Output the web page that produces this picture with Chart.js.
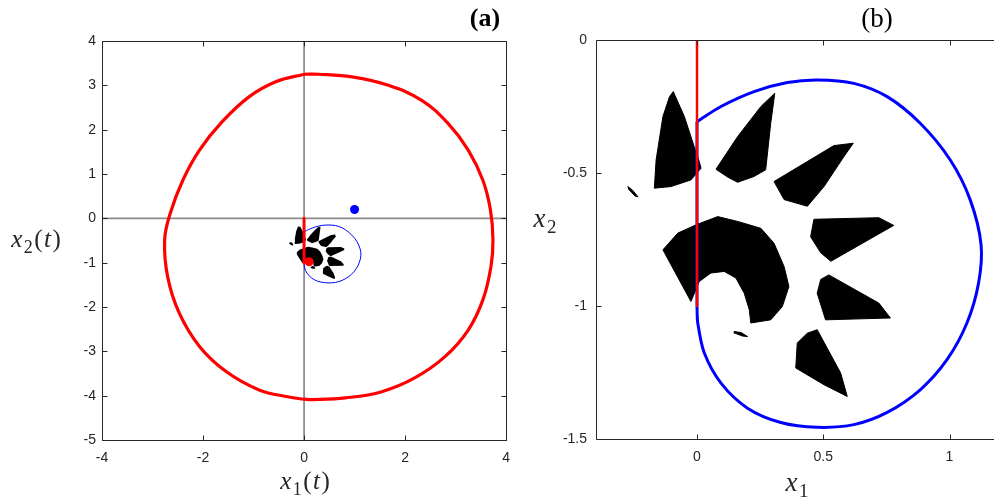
<!DOCTYPE html>
<html>
<head>
<meta charset="utf-8">
<script src="https://cdn.jsdelivr.net/npm/chart.js@4/dist/chart.umd.min.js"></script>
<style>
  html, body { margin: 0; padding: 0; background: #fff; overflow: hidden; width: 994px; height: 502px; }
  #wa { position: absolute; left: 0; top: 0; width: 520px; height: 502px; }
  #wb { position: absolute; left: 520px; top: 0; width: 480px; height: 502px; }
</style>
</head>
<body>
<div id="wa"><canvas id="ca" width="520" height="502"></canvas></div>
<div id="wb"><canvas id="cb" width="480" height="502"></canvas></div>
<script>
// ---- tick values ----
const xTicksA = [-4, -2, 0, 2, 4];
const yTicksA = [-5, -4, -3, -2, -1, 0, 1, 2, 3, 4];
const xTicksB = [0, 0.5, 1];
const yTicksB = [-1.5, -1, -0.5, 0];

// ---- large red orbit (two halves, joined at the kinks on x1 = 0) ----
const redOrbitRight = [[0,3.25],[0.29,3.25],[0.95,3.19],[1.67,3.0],[2.33,2.66],[2.85,2.14],[3.25,1.54],[3.54,0.86],[3.69,0.19],[3.74,-0.49],[3.70,-1.09],[3.54,-1.84],[3.25,-2.52],[2.79,-3.12],[2.19,-3.60],[1.54,-3.91],[0.82,-4.05],[0.16,-4.09],[0,-4.08]];
const redOrbitLeft = [[0,-4.08],[-0.30,-4.03],[-0.89,-3.87],[-1.55,-3.45],[-2.07,-2.89],[-2.47,-2.14],[-2.70,-1.32],[-2.76,-0.49],[-2.65,0.11],[-2.40,0.86],[-2.07,1.54],[-1.62,2.18],[-1.09,2.74],[-0.56,3.08],[0,3.25]];

// ---- red drop along x1 = 0 and end point ----
const redDrop = [[0,0],[0,-1.0]];
const redEnd = [[0.1,-0.98]];

// ---- blue loop and start point ----
const blueArc = [[0,-0.307],[0.095,-0.25],[0.226,-0.194],[0.358,-0.160],[0.476,-0.150],[0.621,-0.163],[0.753,-0.213],[0.884,-0.313],[1.003,-0.451],[1.082,-0.601],[1.125,-0.770],[1.115,-0.914],[1.069,-1.064],[0.990,-1.202],[0.884,-1.315],[0.753,-1.40],[0.621,-1.446],[0.476,-1.456],[0.332,-1.438],[0.200,-1.384],[0.095,-1.290],[0.029,-1.177],[0.003,-1.064],[0,-1.0]];
const blueReset = [[0,-1.0],[0,-0.307]];
const blueStart = [[1,0.2]];

// ---- coordinate axes through the origin (panel a) ----
const axisH = [[-4,0],[4,0]];
const axisV = [[0,-5],[0,4]];

// ---- clusters of sampled states (outlines) ----
const wedge1 = [[-0.094,-0.194],[-0.050,-0.288],[-0.011,-0.401],[0.009,-0.457],[0.016,-0.482],[-0.024,-0.526],[-0.103,-0.551],[-0.169,-0.557],[-0.162,-0.451],[-0.135,-0.288],[-0.109,-0.213]];
const wedge2 = [[0.308,-0.200],[0.292,-0.313],[0.272,-0.488],[0.226,-0.513],[0.161,-0.535],[0.121,-0.515],[0.075,-0.486],[0.161,-0.363],[0.253,-0.25]];
const wedge3 = [[0.619,-0.388],[0.542,-0.397],[0.305,-0.532],[0.345,-0.600],[0.437,-0.625],[0.503,-0.551],[0.582,-0.438]];
const wedge4 = [[0.463,-0.674],[0.720,-0.668],[0.779,-0.697],[0.53,-0.832],[0.49,-0.80],[0.45,-0.74]];
const wedge5 = [[0.522,-0.883],[0.720,-0.989],[0.766,-1.045],[0.509,-1.052],[0.476,-0.952],[0.49,-0.90]];
const wedge6 = [[0.476,-1.089],[0.569,-1.252],[0.595,-1.340],[0.503,-1.296],[0.391,-1.233],[0.397,-1.139],[0.437,-1.102]];
const arcCluster = [[-0.135,-0.789],[-0.076,-0.726],[-0.004,-0.695],[0.082,-0.664],[0.161,-0.682],[0.253,-0.708],[0.305,-0.764],[0.345,-0.852],[0.364,-0.927],[0.338,-1.002],[0.292,-1.052],[0.213,-1.064],[0.207,-1.014],[0.187,-0.952],[0.154,-0.895],[0.108,-0.870],[0.055,-0.876],[0.009,-0.908],[-0.024,-0.983]];
const speckA = [[-0.274,-0.551],[-0.255,-0.565],[-0.234,-0.589],[-0.245,-0.587],[-0.27,-0.562]];
const speckB = [[0.147,-1.096],[0.175,-1.100],[0.200,-1.115],[0.18,-1.113],[0.15,-1.102]];
const clusters = [wedge1, wedge2, wedge3, wedge4, wedge5, wedge6, arcCluster, speckA, speckB];

// ---- helpers ----
const pts = a => a.map(([x, y]) => ({ x, y }));
const RED = '#ff0000', BLUE = '#0000ff';

function lineSet(arr, color, width, order, tension) {
  return { data: pts(arr), showLine: true, fill: false, borderColor: color, borderWidth: width,
           borderJoinStyle: 'round', pointRadius: 0, tension: tension || 0, order };
}
function dotSet(arr, color, r, order) {
  return { data: pts(arr), showLine: false, pointRadius: r, pointBackgroundColor: color,
           pointBorderColor: color, pointBorderWidth: 0, order };
}
function clusterSet(arr, width) {
  return { data: pts([...arr, arr[0]]), showLine: true, fill: 'shape', backgroundColor: '#000',
           borderColor: '#000', borderWidth: width, borderJoinStyle: 'round',
           pointRadius: 0, tension: 0, order: 6 };
}

const SERIF = "'Liberation Serif', 'Times New Roman', serif";
function drawRich(ctx, segs, cx, cy, size, gap) {
  const fontFor = s => `${s.it ? 'italic ' : ''}${s.sub ? Math.round(size * 0.7) : size}px ${SERIF}`;
  const widths = segs.map(s => { ctx.font = fontFor(s); return ctx.measureText(s.t).width; });
  const total = widths.reduce((a, b) => a + b, 0) + gap * (segs.length - 1);
  let x = cx - total / 2;
  const base = cy + size * 0.24;
  ctx.fillStyle = '#262626';
  ctx.textAlign = 'left';
  ctx.textBaseline = 'alphabetic';
  segs.forEach((s, i) => {
    ctx.font = fontFor(s);
    ctx.fillText(s.t, x, base + (s.sub ? size * 0.22 : 0));
    x += widths[i] + gap;
  });
}

// frame, inward ticks, axis titles and panel tag
const panelDeco = {
  id: 'panelDeco',
  afterDatasetsDraw(chart, args, o) {
    const { ctx, chartArea: a, scales: { x, y } } = chart;
    ctx.save();
    const L = Math.round(a.left) + 0.5, R = Math.round(a.right) + 0.5;
    const T = Math.round(a.top) + 0.5, B = Math.round(a.bottom) + 0.5;
    ctx.strokeStyle = '#262626';
    ctx.lineWidth = 1;
    ctx.beginPath();
    ctx.moveTo(R, T); ctx.lineTo(L, T); ctx.lineTo(L, B); ctx.lineTo(R, B);
    if (o.rightBorder) { ctx.moveTo(R, T); ctx.lineTo(R, B); }
    const tl = 5;
    o.xt.forEach(v => {
      const p = Math.round(x.getPixelForValue(v)) + 0.5;
      ctx.moveTo(p, B); ctx.lineTo(p, B - tl);
      ctx.moveTo(p, T); ctx.lineTo(p, T + tl);
    });
    o.yt.forEach(v => {
      const p = Math.round(y.getPixelForValue(v)) + 0.5;
      ctx.moveTo(L, p); ctx.lineTo(L + tl, p);
      if (o.rightBorder) { ctx.moveTo(R, p); ctx.lineTo(R - tl, p); }
    });
    ctx.stroke();
    drawRich(ctx, o.xTitle.segs, o.xTitle.x, o.xTitle.y, o.titleSize, o.gap);
    drawRich(ctx, o.yTitle.segs, o.yTitle.x, o.yTitle.y, o.titleSize, o.gap);
    ctx.fillStyle = '#000';
    ctx.font = `${o.tag.bold ? 'bold ' : ''}${o.tag.size}px ${SERIF}`;
    ctx.textAlign = 'center';
    ctx.textBaseline = 'middle';
    ctx.fillText(o.tag.t, o.tag.x, o.tag.y);
    ctx.restore();
  }
};

function axes(xmin, xmax, ymin, ymax, xt, yt, yW, xH, yPad, xPad) {
  const fmt = v => String(v);
  const tickFont = { family: "'Liberation Sans', Arial, sans-serif", size: 14 };
  return {
    x: { type: 'linear', min: xmin, max: xmax,
         afterBuildTicks: s => { s.ticks = xt.map(v => ({ value: v })); },
         afterFit: s => { s.height = xH; },
         grid: { display: false, drawTicks: false }, border: { display: false },
         ticks: { callback: fmt, color: '#262626', font: tickFont, padding: xPad, maxRotation: 0, autoSkip: false } },
    y: { type: 'linear', min: ymin, max: ymax,
         afterBuildTicks: s => { s.ticks = yt.map(v => ({ value: v })); },
         afterFit: s => { s.width = yW; },
         grid: { display: false, drawTicks: false }, border: { display: false },
         ticks: { callback: fmt, color: '#262626', font: tickFont, padding: yPad, autoSkip: false } }
  };
}

// ---- panel (a): full phase portrait ----
const dsA = [
  lineSet(axisH, '#8c8c8c', 1.6, 9),
  lineSet(axisV, '#333333', 1, 9),
  ...clusters.map(c => clusterSet(c, 2)),
  lineSet(blueArc, BLUE, 1, 4, 0.3),
  lineSet(blueReset, BLUE, 1, 4),
  lineSet(redOrbitRight, RED, 3.2, 3, 0.4),
  lineSet(redOrbitLeft, RED, 3.2, 3, 0.4),
  lineSet(redDrop, RED, 3, 2),
  dotSet(redEnd, RED, 4.5, 1),
  dotSet(blueStart, BLUE, 4.5, 1)
];

new Chart(document.getElementById('ca'), {
  type: 'scatter',
  data: { datasets: dsA },
  options: {
    responsive: false, animation: false, devicePixelRatio: 1,
    layout: { padding: { left: 0, top: 41, right: 12, bottom: 0 } },
    scales: axes(-4, 4, -5, 4, xTicksA, yTicksA, 102, 62, 6, 10),
    plugins: {
      legend: { display: false }, tooltip: { enabled: false },
      panelDeco: {
        xt: xTicksA, yt: yTicksA, rightBorder: true, titleSize: 25, gap: 1.5,
        xTitle: { x: 305, y: 483, segs: [{ t: 'x', it: true }, { t: '1', sub: true }, { t: '(' }, { t: 't', it: true }, { t: ')' }] },
        yTitle: { x: 36, y: 241, segs: [{ t: 'x', it: true }, { t: '2', sub: true }, { t: '(' }, { t: 't', it: true }, { t: ')' }] },
        tag: { t: '(a)', x: 485, y: 19, size: 26, bold: true }
      }
    }
  },
  plugins: [panelDeco]
});

// ---- panel (b): close-up around the blue loop ----
const dsB = [
  ...clusters.map(c => clusterSet(c, 1)),
  lineSet(blueArc, BLUE, 3, 4, 0.3),
  lineSet(blueReset, BLUE, 3, 4),
  lineSet(redDrop, RED, 2.5, 2)
];

new Chart(document.getElementById('cb'), {
  type: 'scatter',
  data: { datasets: dsB },
  options: {
    responsive: false, animation: false, devicePixelRatio: 1,
    layout: { padding: { left: 0, top: 40, right: 2, bottom: 0 } },
    scales: axes(-0.4, 1.192, -1.5, 0, xTicksB, yTicksB, 76, 63, 9, 10),
    plugins: {
      legend: { display: false }, tooltip: { enabled: false },
      panelDeco: {
        xt: xTicksB, yt: yTicksB, rightBorder: false, titleSize: 27, gap: 1.5,
        xTitle: { x: 277, y: 485, segs: [{ t: 'x', it: true }, { t: '1', sub: true }] },
        yTitle: { x: 25, y: 221, segs: [{ t: 'x', it: true }, { t: '2', sub: true }] },
        tag: { t: '(b)', x: 357, y: 20, size: 27, bold: false }
      }
    }
  },
  plugins: [panelDeco]
});
</script>
</body>
</html>
